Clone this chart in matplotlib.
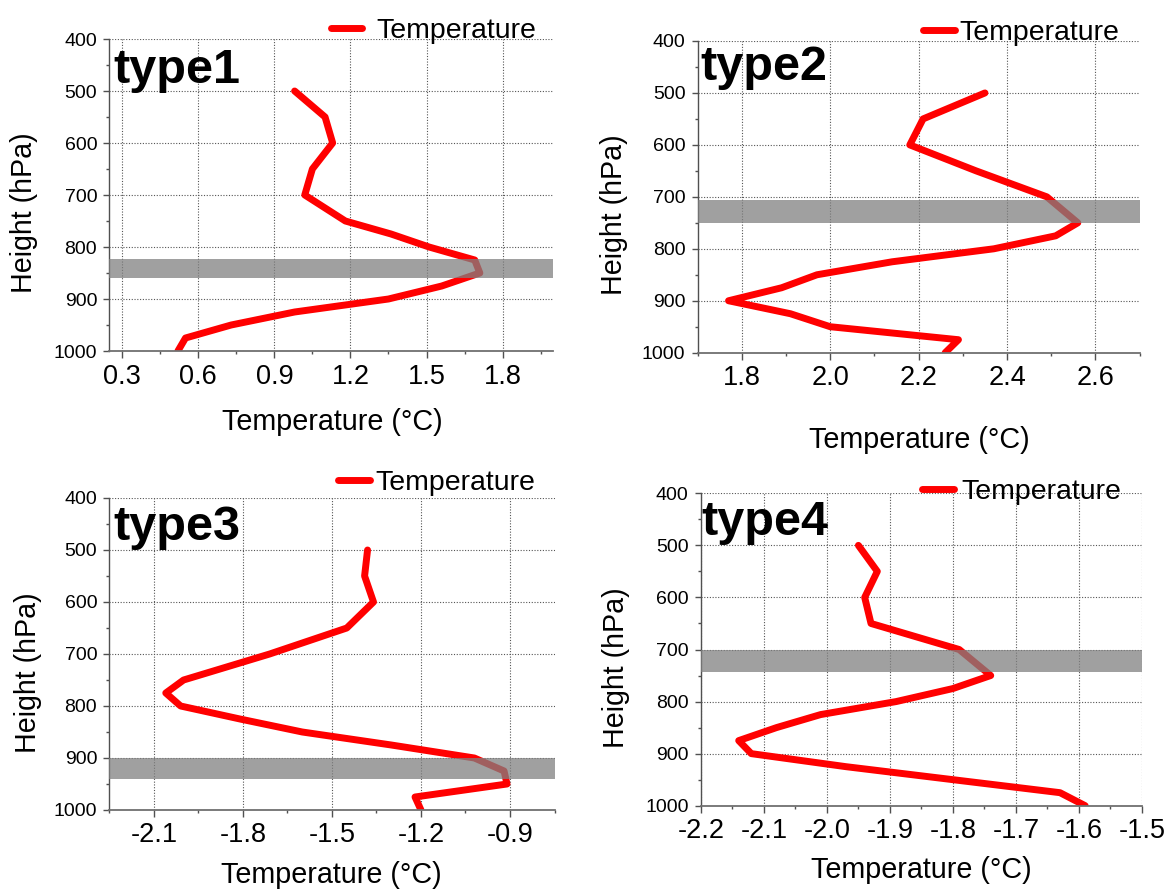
import matplotlib
matplotlib.use("Agg")
import matplotlib.pyplot as plt
from matplotlib.ticker import MultipleLocator, FormatStrFormatter

# pressure levels shared by all four profiles (hPa)
PRESSURE_LEVELS = [500, 550, 600, 650, 700, 750, 775, 800, 825, 850, 875, 900, 925, 950, 975, 1000]

TEMP_TYPE1 = [0.98, 1.10, 1.13, 1.05, 1.02, 1.18, 1.36, 1.51, 1.69, 1.71, 1.56, 1.35, 0.98, 0.73, 0.55, 0.52]
TEMP_TYPE2 = [2.35, 2.21, 2.18, 2.33, 2.49, 2.56, 2.51, 2.37, 2.14, 1.97, 1.89, 1.77, 1.91, 2.00, 2.29, 2.26]
TEMP_TYPE3 = [-1.38, -1.39, -1.36, -1.45, -1.71, -2.00, -2.06, -2.01, -1.81, -1.60, -1.30, -1.02, -0.92, -0.91, -1.22, -1.20]
TEMP_TYPE4 = [-1.95, -1.92, -1.94, -1.93, -1.79, -1.74, -1.80, -1.89, -2.01, -2.08, -2.14, -2.12, -1.97, -1.80, -1.63, -1.59]

PANEL_NAMES = ["type1", "type2", "type3", "type4"]
# shaded pressure layer per panel (hPa)
BAND_TYPE1 = [823, 859]
BAND_TYPE2 = [706, 751]
BAND_TYPE3 = [900, 940]
BAND_TYPE4 = [700, 744]

XLIM_TYPE1 = [0.25, 2.0]
XLIM_TYPE2 = [1.7, 2.7]
XLIM_TYPE3 = [-2.25, -0.75]
XLIM_TYPE4 = [-2.2, -1.5]
XSTEP = [0.3, 0.2, 0.3, 0.1]

FONT = ["Liberation Sans", "DejaVu Sans"]
LINE_RED = "#ff0000"
BAND_GRAY = "#808080"
AXIS_GRAY = "#505050"

YTICK_FONTSIZE = 14
XTICK_FONTSIZE = 19.5
XLABEL_FONTSIZE = 20.7
YLABEL_FONTSIZE = 20.6
LEGEND_FONTSIZE = 20.5
TYPE_FONTSIZE = 35

plt.rcParams["font.family"] = FONT
plt.rcParams["axes.unicode_minus"] = False

W, H = 1175, 890

# layout in pixels: left, right, top, bottom of each plot area
AX_BOXES = [
    (109.4, 553.4, 39.0, 351.0),
    (697.6, 1139.7, 41.0, 352.7),
    (109.4, 554.5, 498.0, 810.0),
    (700.9, 1141.9, 493.3, 805.7),
]
# legend anchor (axes coords) and handle-text gap
LEGEND_POS = [(0.498, 1.026, 0.48), (0.509, 1.026, 0.17), (0.514, 1.048, 0.18), (0.502, 1.004, 0.24)]
TYPE_POS = [(0.010, 0.859), (0.006, 0.875), (0.010, 0.865), (0.002, 0.867)]
XLABEL_POS = [(0.501, -0.228), (0.501, -0.28), (0.499, -0.208), (0.499, -0.206)]
YLABEL_POS = [(-0.192, 0.442), (-0.189, 0.442), (-0.184, 0.44), (-0.193, 0.441)]


def draw_panel(ax, temps, band, xlim, step, idx):
    ax.plot(temps, PRESSURE_LEVELS, color=LINE_RED, lw=5, solid_capstyle="round",
            solid_joinstyle="round", label="Temperature", zorder=2)
    ax.axhspan(band[0], band[1], color=BAND_GRAY, alpha=0.75, lw=0, zorder=3)

    ax.set_xlim(*xlim)
    ax.set_ylim(1000, 400)
    ax.xaxis.set_major_locator(MultipleLocator(step))
    ax.xaxis.set_minor_locator(MultipleLocator(step / 2))
    ax.xaxis.set_major_formatter(FormatStrFormatter("%.1f"))
    ax.yaxis.set_major_locator(MultipleLocator(100))
    ax.yaxis.set_minor_locator(MultipleLocator(50))

    ax.grid(True, which="major", color="#555555", lw=0.8, ls=(0, (1, 1.5)))
    ax.set_axisbelow(True)

    for side in ("top", "right"):
        ax.spines[side].set_visible(False)
    ax.spines["left"].set_color(AXIS_GRAY)
    ax.spines["bottom"].set_color("#707070")
    ax.spines["left"].set_linewidth(1.0)
    ax.spines["bottom"].set_linewidth(1.3)

    ax.tick_params(axis="x", which="major", direction="out", length=5, width=1,
                   color=AXIS_GRAY, labelsize=XTICK_FONTSIZE, pad=4)
    ax.tick_params(axis="x", which="minor", direction="out", length=2.5, width=1, color=AXIS_GRAY)
    ax.tick_params(axis="y", which="major", direction="out", length=4.3, width=1,
                   color=AXIS_GRAY, labelsize=YTICK_FONTSIZE, pad=4.5)
    ax.tick_params(axis="y", which="minor", direction="out", length=2, width=1, color=AXIS_GRAY)

    ax.set_xlabel("Temperature (°C)", fontsize=XLABEL_FONTSIZE)
    ax.xaxis.set_label_coords(*XLABEL_POS[idx])
    ax.xaxis.label.set_verticalalignment("center")
    ax.set_ylabel("Height (hPa)", fontsize=YLABEL_FONTSIZE)
    ax.yaxis.set_label_coords(*YLABEL_POS[idx])
    ax.yaxis.label.set_verticalalignment("center")

    tx, ty = TYPE_POS[idx]
    ax.text(tx, ty, PANEL_NAMES[idx], transform=ax.transAxes, fontsize=TYPE_FONTSIZE,
            fontweight="bold", ha="left", va="baseline", zorder=5)

    lx, ly, gap = LEGEND_POS[idx]
    ax.legend(loc="center left", bbox_to_anchor=(lx, ly), frameon=False,
              fontsize=LEGEND_FONTSIZE, handlelength=1.12, handletextpad=gap,
              borderpad=0, borderaxespad=0)


fig = plt.figure(figsize=(W / 100, H / 100), dpi=100)
fig.patch.set_facecolor("white")

temps_all = [TEMP_TYPE1, TEMP_TYPE2, TEMP_TYPE3, TEMP_TYPE4]
bands_all = [BAND_TYPE1, BAND_TYPE2, BAND_TYPE3, BAND_TYPE4]
xlims_all = [XLIM_TYPE1, XLIM_TYPE2, XLIM_TYPE3, XLIM_TYPE4]

for i, (l, r, t, b) in enumerate(AX_BOXES):
    ax = fig.add_axes([l / W, (H - b) / H, (r - l) / W, (b - t) / H])
    draw_panel(ax, temps_all[i], bands_all[i], xlims_all[i], XSTEP[i], i)

fig.savefig("out.png", dpi=100, facecolor="white")
